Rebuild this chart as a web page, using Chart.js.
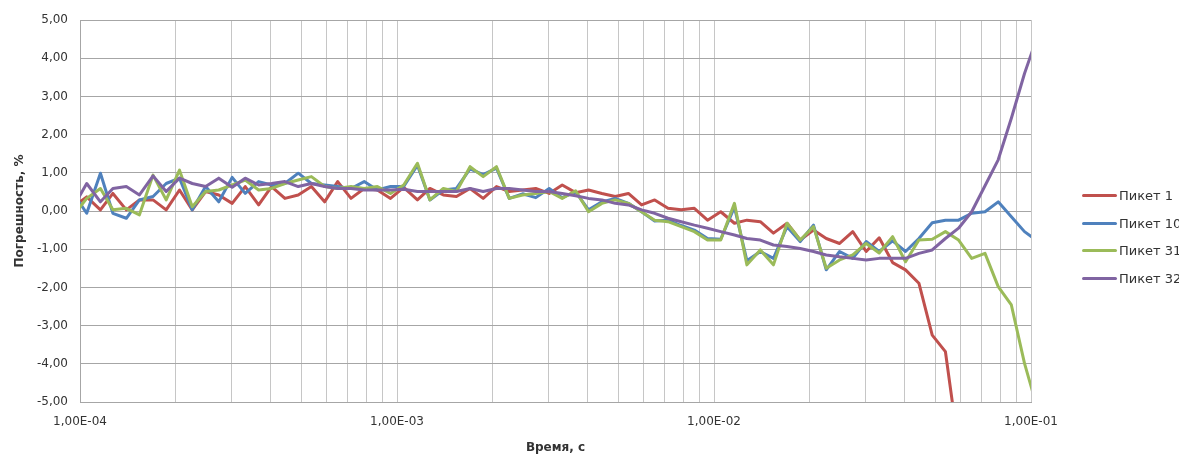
<!DOCTYPE html>
<html>
<head>
<meta charset="utf-8">
<title>Погрешность</title>
<script src="https://cdn.jsdelivr.net/npm/chart.js@4.4.1/dist/chart.umd.min.js"></script>
<style>
  body { margin: 0; background: #fff; }
  #wrap { position: relative; width: 1179px; height: 455px; }
  #legend { position: absolute; left: 1082px; top: 182px; font: 13px "DejaVu Sans", sans-serif; color: #333; }
  #legend .item { height: 27.5px; display: flex; align-items: center; white-space: nowrap; }
  #legend .swatch { display: inline-block; width: 35px; height: 3px; border-radius: 1.5px; margin-right: 2px; }
</style>
</head>
<body>
<div id="wrap">
  <canvas id="chart" width="1179" height="455"></canvas>
  <div id="legend"></div>
</div>
<script>

/**********/
/********** DATA **********/
/**********/

// time channels, s (log spaced, first and last fall just outside the axis)
const times = [
  9.54e-5,
  1.05e-4, 1.16e-4, 1.27e-4, 1.40e-4, 1.54e-4, 1.70e-4, 1.87e-4, 2.06e-4, 2.26e-4, 2.49e-4, 2.74e-4, 3.02e-4,
  3.32e-4, 3.66e-4, 4.02e-4, 4.43e-4, 4.88e-4, 5.37e-4, 5.91e-4, 6.50e-4, 7.16e-4, 7.88e-4, 8.67e-4, 9.54e-4,
  1.05e-3, 1.16e-3, 1.27e-3, 1.40e-3, 1.54e-3, 1.70e-3, 1.87e-3, 2.06e-3, 2.26e-3, 2.49e-3, 2.74e-3, 3.02e-3,
  3.32e-3, 3.66e-3, 4.02e-3, 4.43e-3, 4.88e-3, 5.37e-3, 5.91e-3, 6.50e-3, 7.16e-3, 7.88e-3, 8.67e-3, 9.54e-3,
  1.05e-2, 1.16e-2, 1.27e-2, 1.40e-2, 1.54e-2, 1.70e-2, 1.87e-2, 2.06e-2, 2.26e-2, 2.49e-2, 2.74e-2, 3.02e-2,
  3.32e-2, 3.66e-2, 4.02e-2, 4.43e-2, 4.88e-2, 5.37e-2, 5.91e-2, 6.50e-2, 7.16e-2, 7.88e-2, 8.67e-2, 9.54e-2,
  1.05e-1
]

// error, %
const piket1 = [
  0.11, 0.37, 0.03, 0.46, 0.03, 0.29, 0.29, 0.03, 0.55, 0.03, 0.51, 0.42,
  0.20, 0.64, 0.16, 0.64, 0.33, 0.42, 0.64, 0.24, 0.77, 0.33, 0.59, 0.55,
  0.33, 0.62, 0.29, 0.59, 0.42, 0.38, 0.59, 0.33, 0.64, 0.51, 0.55, 0.59,
  0.46, 0.68, 0.48, 0.55, 0.46, 0.38, 0.46, 0.16, 0.29, 0.07, 0.03, 0.07,
  -0.24, -0.02, -0.32, -0.24, -0.28, -0.58, -0.32, -0.76, -0.50, -0.72, -0.85, -0.54,
  -1.06, -0.70, -1.35, -1.54, -1.89, -3.25, -3.68, -6.2, null, null, null, null,
  null, null
]

const piket10 = [
  0.46, -0.06, 0.99, -0.06, -0.19, 0.29, 0.38, 0.72, 0.86, 0.03, 0.64, 0.24,
  0.88, 0.46, 0.77, 0.68, 0.72, 0.99, 0.72, 0.68, 0.64, 0.59, 0.77, 0.55,
  0.64, 0.64, 1.20, 0.29, 0.55, 0.59, 1.10, 0.95, 1.12, 0.33, 0.45, 0.35,
  0.59, 0.35, 0.50, 0.03, 0.24, 0.33, 0.20, -0.02, -0.26, -0.24, -0.38, -0.50,
  -0.72, -0.74, 0.10, -1.30, -1.06, -1.24, -0.41, -0.80, -0.37, -1.54, -1.06, -1.24,
  -0.80, -1.06, -0.78, -1.06, -0.72, -0.31, -0.24, -0.24, -0.06, -0.02, 0.24, -0.15,
  -0.54, -0.79
]

const piket31 = [
  -0.11, 0.33, 0.59, 0.03, 0.07, -0.10, 0.94, 0.29, 1.07, 0.11, 0.51, 0.55,
  0.68, 0.81, 0.55, 0.59, 0.72, 0.81, 0.90, 0.64, 0.59, 0.64, 0.59, 0.64,
  0.46, 0.68, 1.25, 0.29, 0.59, 0.51, 1.16, 0.90, 1.16, 0.33, 0.42, 0.46,
  0.51, 0.33, 0.53, -0.02, 0.20, 0.29, 0.20, -0.02, -0.24, -0.28, -0.41, -0.54,
  -0.76, -0.76, 0.20, -1.41, -1.02, -1.41, -0.32, -0.76, -0.41, -1.50, -1.28, -1.15,
  -0.85, -1.10, -0.67, -1.33, -0.76, -0.74, -0.54, -0.76, -1.24, -1.11, -1.98, -2.46,
  -3.99, -5.2
]

const piket32 = [
  0.12, 0.72, 0.24, 0.59, 0.64, 0.42, 0.92, 0.51, 0.86, 0.72, 0.64, 0.86,
  0.62, 0.86, 0.68, 0.72, 0.77, 0.64, 0.72, 0.64, 0.59, 0.59, 0.55, 0.55,
  0.55, 0.57, 0.51, 0.51, 0.51, 0.51, 0.59, 0.51, 0.59, 0.59, 0.55, 0.51,
  0.51, 0.46, 0.40, 0.33, 0.29, 0.20, 0.16, 0.03, -0.06, -0.19, -0.28, -0.37,
  -0.45, -0.54, -0.63, -0.72, -0.76, -0.89, -0.93, -0.98, -1.06, -1.15, -1.20, -1.24,
  -1.28, -1.24, -1.24, -1.24, -1.11, -1.02, -0.72, -0.45, -0.02, 0.66, 1.34, 2.43,
  3.60, 4.60
]

const seriesNames = ['Пикет 1', 'Пикет 10', 'Пикет 31', 'Пикет 32']
const seriesValues = [piket1, piket10, piket31, piket32]
const seriesColors = ['#C0504D', '#4F81BD', '#9BBB59', '#8064A2']

// x axis: labelled decades, gridlines at 1..9 of each decade
const decades = [1e-4, 1e-3, 1e-2, 1e-1]
const decadeLabels = ['1,00E-04', '1,00E-03', '1,00E-02', '1,00E-01']
const gridSteps = [1, 2, 3, 4, 5, 6, 7, 8, 9]

const yMin = -5
const yMax = 5

/************************************************************/

/**********/
/********** HELPERS **********/
/**********/

const sameValue = (a, b) => Math.abs(Math.log10(a / b)) < 1e-6

const gridValues = () => {
  let values = []
  decades.forEach((d, i) => {
    if (i === decades.length - 1) {
      values.push(d)
      return
    }
    gridSteps.forEach((s) => values.push(s * d))
  })
  return values
}

const tickFont = { family: '"DejaVu Sans", sans-serif', size: 12 }
const titleFont = { family: '"DejaVu Sans", sans-serif', size: 12, weight: 'bold' }
const textColor = '#333333'

/************************************************************/

/**********/
/********** CHART **********/
/**********/

const datasets = seriesNames.map((name, i) => ({
  label: name,
  data: times.map((t, j) => ({ x: t, y: seriesValues[i][j] })),
  borderColor: seriesColors[i],
  backgroundColor: seriesColors[i],
  borderWidth: 3,
  borderJoinStyle: 'round',
  borderCapStyle: 'round',
  pointRadius: 0,
  tension: 0,
  clip: 0,
  order: seriesNames.length - i
}))

const chart = new Chart(document.getElementById('chart'), {
  type: 'line',
  data: { datasets: datasets },
  options: {
    responsive: false,
    animation: false,
    devicePixelRatio: 1,
    layout: { padding: { top: 20, right: 148, bottom: 0, left: 0 } },
    plugins: {
      legend: { display: false },
      tooltip: { enabled: false }
    },
    scales: {
      x: {
        type: 'logarithmic',
        min: decades[0],
        max: decades[decades.length - 1],
        afterBuildTicks: (axis) => {
          axis.ticks = gridValues().map((v) => ({ value: v }))
        },
        afterFit: (scale) => { scale.height = 53 },
        ticks: {
          autoSkip: false,
          maxRotation: 0,
          padding: 13,
          color: textColor,
          font: tickFont,
          callback: (value) => {
            const i = decades.findIndex((d) => sameValue(d, value))
            return i < 0 ? '' : decadeLabels[i]
          }
        },
        grid: { color: '#c6c6c6', drawTicks: false },
        border: { color: '#a6a6a6' },
        title: {
          display: true,
          text: 'Время, с',
          color: textColor,
          font: titleFont,
          padding: { top: 0, bottom: 0 }
        }
      },
      y: {
        min: yMin,
        max: yMax,
        afterFit: (scale) => { scale.width = 80 },
        ticks: {
          stepSize: 1,
          padding: 12,
          color: textColor,
          font: tickFont,
          callback: (value) => value.toFixed(2).replace('.', ',')
        },
        grid: { color: '#a6a6a6', drawTicks: false },
        border: { color: '#a6a6a6' },
        title: {
          display: true,
          text: 'Погрешность, %',
          color: textColor,
          font: titleFont,
          padding: { top: 13, bottom: 0 }
        }
      }
    }
  }
})

/**********/
/********** LEGEND **********/
/**********/

const legend = document.getElementById('legend')
chart.data.datasets.forEach((ds) => {
  const item = document.createElement('div')
  item.className = 'item'
  const swatch = document.createElement('span')
  swatch.className = 'swatch'
  swatch.style.background = ds.borderColor
  const label = document.createElement('span')
  label.textContent = ds.label
  item.appendChild(swatch)
  item.appendChild(label)
  legend.appendChild(item)
})

</script>
</body>
</html>
